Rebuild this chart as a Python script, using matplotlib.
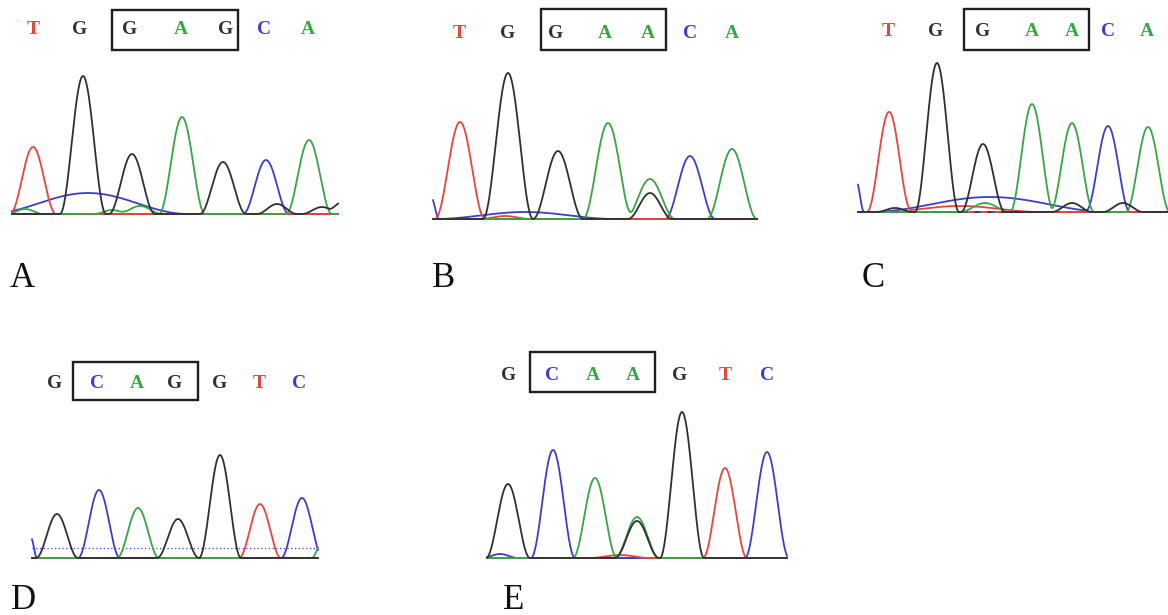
"""
Sanger sequencing chromatograms, panels A-E (wild type vs. variant).
Trace x values are scan positions, heights are signal above baseline.
"""

import numpy as np
import matplotlib

matplotlib.use("Agg")
import matplotlib.pyplot as plt
from matplotlib.patches import Rectangle

W, H = 1168, 615
BASE_COLORS = {"A": "#38a545", "C": "#3d3dc8", "G": "#303030", "T": "#e8453d"}

# ---- panel A -------------------------------------------------------------
A_CALLS = ["T", "G", "G", "A", "G", "C", "A"]
A_CALL_X = [33, 80, 130, 181, 226, 264, 308]
A_PEAK_BASE = ["T", "G", "G", "A", "G", "C", "A"]
A_PEAK_X = [33, 83, 132, 182, 223, 266, 309]
A_PEAK_H = [67, 138, 60, 97, 52, 54, 74]
A_MINOR_BASE = ["C", "A", "A", "A", "G", "G", "G"]
A_MINOR_X = [88, 25, 112, 140, 277, 322, 342]
A_MINOR_H = [21, 5, 4, 8, 10, 7, 12]
A_MINOR_W = [100, 18, 18, 22, 20, 20, 14]

# ---- panel B -------------------------------------------------------------
B_CALLS = ["T", "G", "G", "A", "A", "C", "A"]
B_CALL_X = [459, 508, 556, 605, 648, 690, 732]
B_PEAK_BASE = ["T", "G", "G", "A", "A", "C", "A"]
B_PEAK_X = [460, 508, 558, 608, 650, 690, 732]
B_PEAK_H = [97, 146, 68, 96, 40, 63, 70]
B_MINOR_BASE = ["G", "C", "C", "T"]
B_MINOR_X = [650, 525, 431, 505]
B_MINOR_H = [26, 7, 22, 3]
B_MINOR_W = [22, 90, 8, 25]

# ---- panel C -------------------------------------------------------------
C_CALLS = ["T", "G", "G", "A", "A", "C", "A"]
C_CALL_X = [888, 936, 983, 1032, 1072, 1108, 1147]
C_PEAK_BASE = ["T", "G", "G", "A", "A", "C", "A"]
C_PEAK_X = [889, 937, 983, 1032, 1072, 1108, 1148]
C_PEAK_H = [100, 149, 68, 108, 89, 86, 85]
C_MINOR_BASE = ["C", "A", "G", "G", "T", "C", "G"]
C_MINOR_X = [990, 985, 1072, 1123, 960, 856, 895]
C_MINOR_H = [15, 9, 9, 9, 6, 32, 4]
C_MINOR_W = [120, 25, 20, 20, 80, 8, 18]

# ---- panel D -------------------------------------------------------------
D_CALLS = ["G", "C", "A", "G", "G", "T", "C"]
D_CALL_X = [55, 97, 137, 175, 220, 259, 299]
D_PEAK_BASE = ["G", "C", "A", "G", "G", "T", "C"]
D_PEAK_X = [57, 99, 138, 178, 220, 260, 302]
D_PEAK_H = [44, 68, 50, 39, 103, 54, 60]
D_MINOR_BASE = ["C", "A"]
D_MINOR_X = [31, 320]
D_MINOR_H = [20, 12]
D_MINOR_W = [6, 8]

# ---- panel E -------------------------------------------------------------
E_CALLS = ["G", "C", "A", "A", "G", "T", "C"]
E_CALL_X = [509, 552, 593, 633, 680, 725, 767]
E_PEAK_BASE = ["G", "C", "A", "A", "G", "G", "T", "C"]
E_PEAK_X = [508, 553, 595, 637, 637, 682, 725, 767]
E_PEAK_H = [74, 108, 80, 41, 37, 146, 90, 106]
E_MINOR_BASE = ["C", "T"]
E_MINOR_X = [500, 620]
E_MINOR_H = [4, 3]
E_MINOR_W = [18, 30]

# layout (pixels): trace left/right, baseline, letter row, box, label
PANELS = [
    dict(calls=A_CALLS, call_x=A_CALL_X, base=A_PEAK_BASE, px=A_PEAK_X, ph=A_PEAK_H,
         mb=A_MINOR_BASE, mx=A_MINOR_X, mh=A_MINOR_H, mw=A_MINOR_W,
         left=12, right=338, baseline=215, text_y=30, box=(112, 238, 10, 50),
         half_width=23, label="A", label_xy=(10, 287), dotted=0),
    dict(calls=B_CALLS, call_x=B_CALL_X, base=B_PEAK_BASE, px=B_PEAK_X, ph=B_PEAK_H,
         mb=B_MINOR_BASE, mx=B_MINOR_X, mh=B_MINOR_H, mw=B_MINOR_W,
         left=433, right=757, baseline=220, text_y=33, box=(541, 666, 9, 50),
         half_width=25, label="B", label_xy=(432, 287), dotted=None),
    dict(calls=C_CALLS, call_x=C_CALL_X, base=C_PEAK_BASE, px=C_PEAK_X, ph=C_PEAK_H,
         mb=C_MINOR_BASE, mx=C_MINOR_X, mh=C_MINOR_H, mw=C_MINOR_W,
         left=858, right=1168, baseline=213, text_y=32, box=(964, 1089, 9, 50),
         half_width=22, label="C", label_xy=(862, 287), dotted=None),
    dict(calls=D_CALLS, call_x=D_CALL_X, base=D_PEAK_BASE, px=D_PEAK_X, ph=D_PEAK_H,
         mb=D_MINOR_BASE, mx=D_MINOR_X, mh=D_MINOR_H, mw=D_MINOR_W,
         left=32, right=318, baseline=559, text_y=383, box=(73, 198, 362, 400),
         half_width=21, label="D", label_xy=(11, 609), dotted=11),
    dict(calls=E_CALLS, call_x=E_CALL_X, base=E_PEAK_BASE, px=E_PEAK_X, ph=E_PEAK_H,
         mb=E_MINOR_BASE, mx=E_MINOR_X, mh=E_MINOR_H, mw=E_MINOR_W,
         left=487, right=787, baseline=559, text_y=375, box=(530, 655, 352, 392),
         half_width=22, label="E", label_xy=(503, 609), dotted=None),
]


def channel(xs, pos, hts, widths):
    # compact raised-cosine peaks: straight-ish flanks that meet the baseline
    y = np.zeros_like(xs)
    for p, h, w in zip(pos, hts, widths):
        z = np.clip(np.abs(xs - p) / w, 0, 1)
        y += h * np.cos(0.5 * np.pi * z) ** 2
    return y


def draw_panel(fig, p):
    top = p["text_y"] - 30
    ax = fig.add_axes([p["left"] / W, 1 - p["baseline"] / H,
                       (p["right"] - p["left"]) / W, (p["baseline"] - top) / H])
    ax.set_xlim(p["left"], p["right"])
    ax.set_ylim(0, p["baseline"] - top)
    ax.axis("off")

    # coloured noisy baseline
    for i, (b, col) in enumerate(BASE_COLORS.items()):
        ax.plot([p["left"], p["right"]], [0.6 + 0.5 * (i % 2)] * 2, color=col,
                lw=1.2, ls=(i * 2, (4, 4)), solid_capstyle="butt")
    if p["dotted"] is not None:
        ax.plot([p["left"], p["right"]], [p["dotted"]] * 2, color=BASE_COLORS["C"],
                lw=0.9, ls=(0, (1, 2)))

    xs = np.linspace(p["left"], p["right"], 900)
    for b in ["C", "T", "A", "G"]:
        pos = [x for x, bb in zip(p["px"], p["base"]) if bb == b]
        hts = [h for h, bb in zip(p["ph"], p["base"]) if bb == b]
        wid = [p["half_width"]] * len(pos)
        pos += [x for x, bb in zip(p["mx"], p["mb"]) if bb == b]
        hts += [h for h, bb in zip(p["mh"], p["mb"]) if bb == b]
        wid += [w for w, bb in zip(p["mw"], p["mb"]) if bb == b]
        ax.plot(xs, channel(xs, pos, hts, wid) + 1.0, color=BASE_COLORS[b], lw=1.3,
                clip_on=False)

    ty = p["baseline"] - p["text_y"]
    for c, x in zip(p["calls"], p["call_x"]):
        ax.text(x, ty, c, color=BASE_COLORS[c], fontsize=14, ha="center", va="center",
                family="Liberation Serif", fontweight="bold", clip_on=False)
    x0, x1, y0, y1 = p["box"]
    ax.add_patch(Rectangle((x0, p["baseline"] - y1), x1 - x0, y1 - y0, fill=False,
                           ec="#1e1e1e", lw=1.7, clip_on=False))

    lx, ly = p["label_xy"]
    fig.text(lx / W, 1 - ly / H, p["label"], fontsize=25, family="Liberation Serif",
             ha="left", va="baseline", color="#111111")


fig = plt.figure(figsize=(W / 100, H / 100), dpi=100)
for panel in PANELS:
    draw_panel(fig, panel)
fig.savefig("out.png", dpi=100, facecolor="white")
